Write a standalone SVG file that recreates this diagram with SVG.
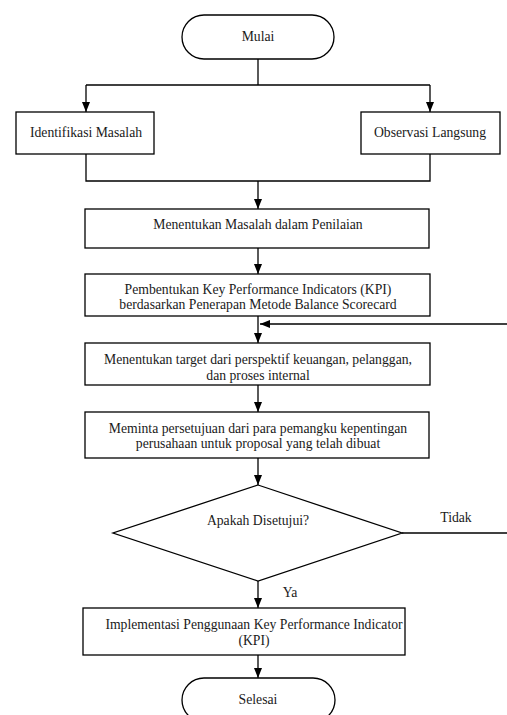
<svg xmlns="http://www.w3.org/2000/svg" width="507" height="715" viewBox="0 0 507 715">
<style>
.s{fill:#fff;stroke:#000;stroke-width:1.3}
.c{fill:none;stroke:#000;stroke-width:1.3}
text{font-family:"Liberation Serif","Times New Roman",serif;font-size:13.7px;fill:#1a1a1a;text-anchor:middle}
</style>
<defs>
<marker id="a" markerUnits="userSpaceOnUse" markerWidth="10" markerHeight="10" viewBox="0 0 10 10" refX="10" refY="5" orient="auto">
<path d="M0,1 L10,5 L0,9 Z" fill="#000"/>
</marker>
</defs>
<rect width="507" height="715" fill="#fff"/>
<g id="connectors">
<path class="c" d="M258,59 V85"/>
<path class="c" d="M86,85 H430"/>
<path class="c" d="M86,85 V112" marker-end="url(#a)"/>
<path class="c" d="M430,85 V112" marker-end="url(#a)"/>
<path class="c" d="M86,154 V181 H430 V154"/>
<path class="c" d="M258,181 V209" marker-end="url(#a)"/>
<path class="c" d="M258,248 V274" marker-end="url(#a)"/>
<path class="c" d="M258,316 V343" marker-end="url(#a)"/>
<path class="c" d="M507,324 H260" marker-end="url(#a)"/>
<path class="c" d="M258,385 V412" marker-end="url(#a)"/>
<path class="c" d="M258,458 V485" marker-end="url(#a)"/>
<path class="c" d="M402,533 H507"/>
<path class="c" d="M258,581 V608" marker-end="url(#a)"/>
<path class="c" d="M258,655 V678" marker-end="url(#a)"/>
<text x="456" y="522">Tidak</text>
<text x="290" y="597">Ya</text>
</g>
<g id="mulai">
<rect class="s" x="182" y="15" width="152" height="44" rx="22"/>
<text x="258" y="41">Mulai</text>
</g>
<g id="identifikasi">
<rect class="s" x="16" y="112" width="138" height="42"/>
<text x="86" y="137">Identifikasi Masalah</text>
</g>
<g id="observasi">
<rect class="s" x="361" y="112" width="139" height="42"/>
<text x="430" y="137">Observasi Langsung</text>
</g>
<g id="menentukan-masalah">
<rect class="s" x="85" y="209" width="344" height="39"/>
<text x="258" y="229">Menentukan Masalah dalam Penilaian</text>
</g>
<g id="kpi">
<rect class="s" x="85" y="274" width="345" height="42"/>
<text x="258" y="294">Pembentukan Key Performance Indicators (KPI)</text>
<text x="258" y="309">berdasarkan Penerapan Metode Balance Scorecard</text>
</g>
<g id="target">
<rect class="s" x="85" y="343" width="345" height="42"/>
<text x="258" y="364">Menentukan target dari perspektif keuangan, pelanggan,</text>
<text x="258" y="380">dan proses internal</text>
</g>
<g id="persetujuan">
<rect class="s" x="85" y="412" width="344" height="46"/>
<text x="258" y="433">Meminta persetujuan dari para pemangku kepentingan</text>
<text x="258" y="448">perusahaan untuk proposal yang telah dibuat</text>
</g>
<g id="keputusan">
<polygon class="s" points="258,485 402,533 258,581 113,533"/>
<text x="258" y="525">Apakah Disetujui?</text>
</g>
<g id="implementasi">
<rect class="s" x="83" y="608" width="322" height="47"/>
<text x="254" y="629">Implementasi Penggunaan Key Performance Indicator</text>
<text x="254" y="645">(KPI)</text>
</g>
<g id="selesai">
<rect class="s" x="182" y="678" width="153" height="44" rx="22"/>
<text x="258" y="704">Selesai</text>
</g>
</svg>
